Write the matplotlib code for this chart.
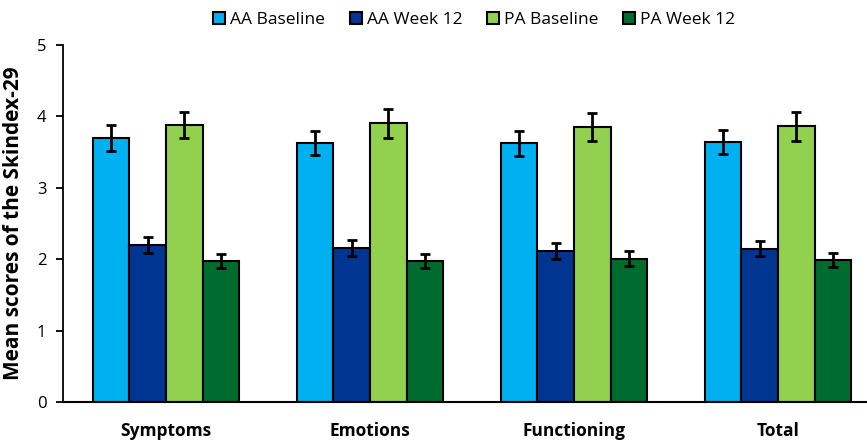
import numpy as np
import matplotlib
matplotlib.use("Agg")
import matplotlib.pyplot as plt

categories = ["Symptoms", "Emotions", "Functioning", "Total"]
series = ["AA Baseline", "AA Week 12", "PA Baseline", "PA Week 12"]

aa_base = [3.70, 3.63, 3.62, 3.64]
aa_w12 = [2.20, 2.16, 2.12, 2.15]
pa_base = [3.88, 3.90, 3.85, 3.86]
pa_w12 = [1.98, 1.98, 2.01, 1.99]

aa_base_err = [0.18, 0.17, 0.18, 0.17]
aa_w12_err = [0.11, 0.11, 0.11, 0.11]
pa_base_err = [0.18, 0.20, 0.20, 0.20]
pa_w12_err = [0.10, 0.10, 0.10, 0.10]

colors = ["#00B0F0", "#003591", "#92D050", "#006B2F"]

plt.rcParams['font.family'] = ['Open Sans', 'DejaVu Sans']

fig = plt.figure(figsize=(8.67, 4.41), dpi=100)
ax = fig.add_axes([63/867, 1 - 402.3/441, 816/867, (402.3-44.7)/441])

x = np.arange(len(categories))
w = 0.18
vals = [aa_base, aa_w12, pa_base, pa_w12]
errs = [aa_base_err, aa_w12_err, pa_base_err, pa_w12_err]
for i in range(4):
    ax.bar(x + (i - 1.5) * w, vals[i], w, color=colors[i], edgecolor="black",
           linewidth=1.5, label=series[i], zorder=2)
    ax.errorbar(x + (i - 1.5) * w, vals[i], yerr=errs[i], fmt="none",
                ecolor="black", elinewidth=2, capsize=3.5, capthick=2, zorder=3)

ax.set_xlim(-0.505, 3.495)
ax.set_ylim(0, 5)
ax.set_yticks([0, 1, 2, 3, 4, 5])
ax.set_xticks(x)
ax.set_xticklabels(categories, fontsize=12.5, fontweight="bold")
ax.tick_params(axis="x", length=0, pad=14)
ax.tick_params(axis="y", labelsize=12, length=5, width=1.3, direction="out", pad=7)
for s in ["top", "right"]:
    ax.spines[s].set_visible(False)
ax.spines["left"].set_linewidth(1.3)
ax.spines["bottom"].set_linewidth(1.5)
ax.set_ylabel("Mean scores of the Skindex-29", fontsize=15, fontweight="bold", labelpad=9)

fig.legend(loc="center", bbox_to_anchor=(0.547, 0.955), ncol=4, frameon=False,
           fontsize=12.5, handlelength=0.7, handleheight=0.7, handletextpad=0.3,
           columnspacing=1.4)

fig.savefig("out.png", dpi=100)
